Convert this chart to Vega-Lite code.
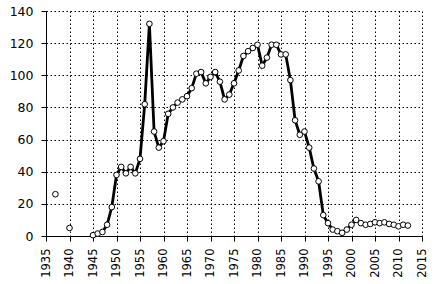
{
  "$schema": "https://vega.github.io/schema/vega-lite/v6.json",
  "width": 376,
  "height": 225,
  "autosize": "none",
  "padding": {"left": 46, "top": 11, "right": 13, "bottom": 48},
  "background": "white",
  "config": {
    "view": {"stroke": null},
    "axis": {
      "grid": true,
      "labelFont": "DejaVu Sans",
      "labelColor": "#000",
      "domainColor": "#000",
      "tickColor": "#000",
      "gridColor": "#000",
      "gridDash": [1.5, 2.5],
      "gridWidth": 1,
      "gridOpacity": 1,
      "tickSize": 5,
      "domainWidth": 1
    }
  },
  "data": {
    "values": [
      {"year": 1937, "value": 26, "grp": "a"},
      {"year": 1940, "value": 5, "grp": "b"},
      {"year": 1945, "value": 0.5, "grp": "c"},
      {"year": 1946, "value": 1.5, "grp": "c"},
      {"year": 1947, "value": 2.5, "grp": "c"},
      {"year": 1948, "value": 7, "grp": "c"},
      {"year": 1949, "value": 18, "grp": "c"},
      {"year": 1950, "value": 38, "grp": "c"},
      {"year": 1951, "value": 43, "grp": "c"},
      {"year": 1952, "value": 39, "grp": "c"},
      {"year": 1953, "value": 43, "grp": "c"},
      {"year": 1954, "value": 39, "grp": "c"},
      {"year": 1955, "value": 48, "grp": "c"},
      {"year": 1956, "value": 82, "grp": "c"},
      {"year": 1957, "value": 132, "grp": "c"},
      {"year": 1958, "value": 65, "grp": "c"},
      {"year": 1959, "value": 55, "grp": "c"},
      {"year": 1960, "value": 59, "grp": "c"},
      {"year": 1961, "value": 76, "grp": "c"},
      {"year": 1962, "value": 80, "grp": "c"},
      {"year": 1963, "value": 83, "grp": "c"},
      {"year": 1964, "value": 85, "grp": "c"},
      {"year": 1965, "value": 87, "grp": "c"},
      {"year": 1966, "value": 92, "grp": "c"},
      {"year": 1967, "value": 101, "grp": "c"},
      {"year": 1968, "value": 102, "grp": "c"},
      {"year": 1969, "value": 95, "grp": "c"},
      {"year": 1970, "value": 99, "grp": "c"},
      {"year": 1971, "value": 102, "grp": "c"},
      {"year": 1972, "value": 96, "grp": "c"},
      {"year": 1973, "value": 85, "grp": "c"},
      {"year": 1974, "value": 88, "grp": "c"},
      {"year": 1975, "value": 95, "grp": "c"},
      {"year": 1976, "value": 103, "grp": "c"},
      {"year": 1977, "value": 112, "grp": "c"},
      {"year": 1978, "value": 115, "grp": "c"},
      {"year": 1979, "value": 117, "grp": "c"},
      {"year": 1980, "value": 119, "grp": "c"},
      {"year": 1981, "value": 106, "grp": "c"},
      {"year": 1982, "value": 111, "grp": "c"},
      {"year": 1983, "value": 119, "grp": "c"},
      {"year": 1984, "value": 119, "grp": "c"},
      {"year": 1985, "value": 113, "grp": "c"},
      {"year": 1986, "value": 113, "grp": "c"},
      {"year": 1987, "value": 97, "grp": "c"},
      {"year": 1988, "value": 72, "grp": "c"},
      {"year": 1989, "value": 63, "grp": "c"},
      {"year": 1990, "value": 65, "grp": "c"},
      {"year": 1991, "value": 55, "grp": "c"},
      {"year": 1992, "value": 42, "grp": "c"},
      {"year": 1993, "value": 34, "grp": "c"},
      {"year": 1994, "value": 13, "grp": "c"},
      {"year": 1995, "value": 8, "grp": "c"},
      {"year": 1996, "value": 4, "grp": "c"},
      {"year": 1997, "value": 3, "grp": "c"},
      {"year": 1998, "value": 2, "grp": "c"},
      {"year": 1999, "value": 4, "grp": "c"},
      {"year": 2000, "value": 7, "grp": "c"},
      {"year": 2001, "value": 10, "grp": "c"},
      {"year": 2002, "value": 8, "grp": "c"},
      {"year": 2003, "value": 7, "grp": "c"},
      {"year": 2004, "value": 7.5, "grp": "c"},
      {"year": 2005, "value": 8.5, "grp": "c"},
      {"year": 2006, "value": 8, "grp": "c"},
      {"year": 2007, "value": 8.5, "grp": "c"},
      {"year": 2008, "value": 7.5, "grp": "c"},
      {"year": 2009, "value": 7, "grp": "c"},
      {"year": 2010, "value": 6, "grp": "c"},
      {"year": 2011, "value": 7, "grp": "c"},
      {"year": 2012, "value": 6.5, "grp": "c"}
    ]
  },
  "encoding": {
    "x": {
      "field": "year",
      "type": "quantitative",
      "scale": {"domain": [1935, 2015], "nice": false, "zero": false},
      "axis": {
        "title": null,
        "grid": true,
        "values": [1935, 1940, 1945, 1950, 1955, 1960, 1965, 1970, 1975, 1980, 1985, 1990, 1995, 2000, 2005, 2010, 2015],
        "format": "d",
        "labelAngle": -90,
        "labelAlign": "right",
        "labelBaseline": "middle",
        "labelFontSize": 11.5,
        "labelPadding": 7
      }
    },
    "y": {
      "field": "value",
      "type": "quantitative",
      "scale": {"domain": [0, 140], "nice": false},
      "axis": {
        "title": null,
        "grid": true,
        "values": [0, 20, 40, 60, 80, 100, 120, 140],
        "labelFontSize": 12.5,
        "labelPadding": 8
      }
    }
  },
  "layer": [
    {
      "mark": {"type": "line", "color": "#000", "strokeWidth": 2.8},
      "encoding": {"detail": {"field": "grp"}}
    },
    {
      "mark": {"type": "point", "shape": "circle", "filled": true, "fill": "#fff", "stroke": "#000", "strokeWidth": 1, "size": 32, "opacity": 1}
    }
  ]
}
